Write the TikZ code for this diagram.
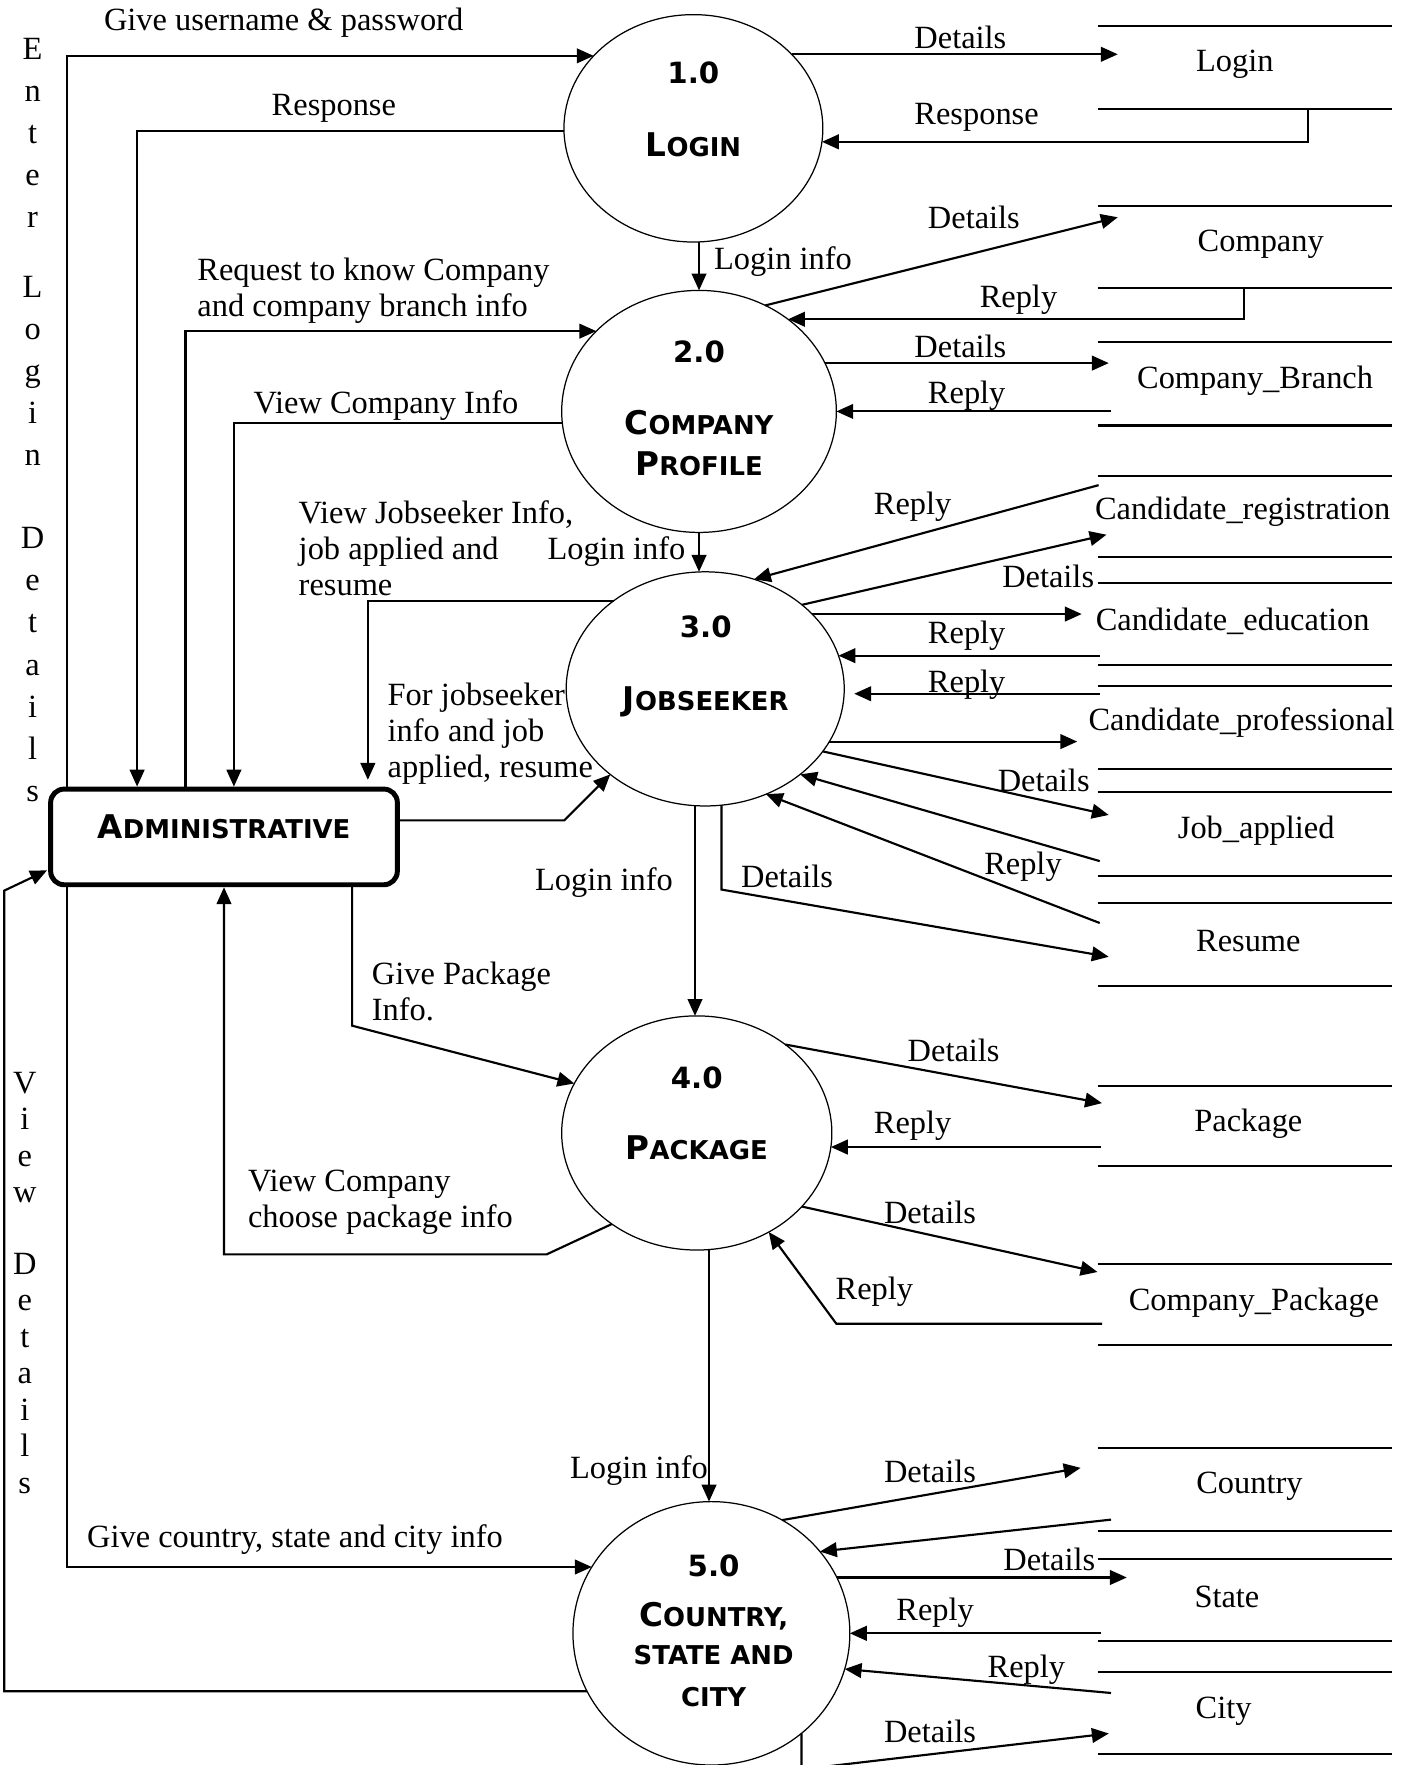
\documentclass[tikz,border=0pt]{standalone}
\usepackage{fontspec}
\setmainfont{Liberation Serif}
\newfontfamily\titlefont{DejaVu Sans}
\usetikzlibrary{arrows.meta,calc,shapes.geometric}

\newcommand\tsc[2]{{\fontsize{14.5}{17}\selectfont #1}{\fontsize{11.5}{17}\selectfont #2}}
\newcommand\tsm[1]{{\fontsize{11.5}{17}\selectfont #1}}
\newcommand\tnum[1]{{\fontsize{13}{17}\selectfont #1}}

\tikzset{
  proc/.style={ellipse, draw, line width=0.55pt, inner sep=0pt, outer sep=0pt},
  ptitle/.style={align=center, inner sep=0pt, font=\titlefont\bfseries\fontsize{13}{17}\selectfont},
  adminbox/.style={draw, rounded corners=6pt, line width=2.2pt, minimum width=154pt, minimum height=42.5pt,
    inner sep=0pt, outer sep=1.1pt, font=\titlefont\bfseries},
  flow/.style={line width=0.95pt, -{Triangle[length=7.5pt,width=6.5pt]}},
  dstore/.style={minimum width=131pt, inner sep=0pt, outer sep=0pt},
  storeline/.style={line width=0.9pt},
  dstext/.style={inner sep=0pt, font=\fontsize{14.4}{16}\selectfont},
  lbl/.style={anchor=west, align=left, inner sep=0pt, font=\fontsize{14.4}{16}\selectfont},
  vtxt/.style={align=center, inner sep=0pt, font=\fontsize{14.4}{18.75}\selectfont},
  vtxtb/.style={align=center, inner sep=0pt, font=\fontsize{14.4}{16.25}\selectfont}
}

\begin{document}
\begin{tikzpicture}[x=0.5pt, y=-0.5pt]
\useasboundingbox (0,0) rectangle (1255,1568);

\node[proc, minimum width=115pt, minimum height=101pt] (login) at (616,114) {};
\node[proc, minimum width=122pt, minimum height=107.5pt] (comp) at (621,365.5) {};
\node[proc, minimum width=123.5pt, minimum height=104pt] (jobs) at (626.5,612) {};
\node[proc, minimum width=120pt, minimum height=104pt] (pkg) at (619,1006.5) {};
\node[proc, minimum width=123pt, minimum height=117pt] (ctry) at (632,1451) {};

\node[ptitle] (loginT) at (616,97) {\tnum{1.0}\\[15.2pt]\tsc{L}{OGIN}};
\node[ptitle] (compT) at (621,363) {\tnum{2.0}\\[14.7pt]\tsc{C}{OMPANY}\\[1.6pt]\tsc{P}{ROFILE}};
\node[ptitle] (jobsT) at (627,592) {\tnum{3.0}\\[15.5pt]\tsc{J}{OBSEEKER}};
\node[ptitle] (pkgT) at (619,989) {\tnum{4.0}\\[14.9pt]\tsc{P}{ACKAGE}};
\node[ptitle] (ctryT) at (634,1449) {\tnum{5.0}\\[5.1pt]\tsc{C}{OUNTRY,}\\\tsm{STATE AND}\\[1.5pt]\tsm{CITY}};

\node[adminbox] (admin) at (199,743.5) {\raisebox{4.5pt}[\height][\depth]{\tsc{A}{DMINISTRATIVE}}};

\foreach \nm/\yt/\yb/\lx/\ly/\txt in {
  dsLogin/23/97/1097/57/Login,
  dsComp/183/256/1120/217/Company,
  dsBranch/304/378/1115/338/Company\_Branch,
  dsReg/423/495/1104/455/Candidate\_registration,
  dsEdu/518/591/1095/552/Candidate\_education,
  dsProf/609/683/1103/642/Candidate\_professional,
  dsJob/704/778/1116/738/Job\_applied,
  dsResume/802/876/1109/836/Resume,
  dsPkg/965/1036/1109/998/Package,
  dsCompPkg/1123/1195/1114/1157/Company\_Package,
  dsCountry/1286/1360/1110/1320/Country,
  dsState/1385/1458/1090/1419/State,
  dsCity/1485/1558/1087/1520/City}{
  \node[dstore, minimum height={(\yb-\yt)*0.5pt}] (\nm) at (1106,{(\yt+\yb)/2}) {};
  \draw[storeline] (\nm.north west) -- (\nm.north east) (\nm.south west) -- (\nm.south east);
  \node[dstext] (\nm-txt) at (\lx,\ly) {\txt};
}

\node[vtxt] (vEnter) at (29,118) {E\\n\\t\\e\\r};
\node[vtxt] (vLogin) at (29,329.5) {L\\o\\g\\i\\n};
\node[vtxt] (vDetails) at (29,590.5) {D\\e\\t\\a\\i\\l\\s};
\node[vtxtb] (vView) at (22,1010.5) {V\\i\\e\\w};
\node[vtxtb] (vDetailsB) at (22,1220) {D\\e\\t\\a\\i\\l\\s};

\node[lbl] (lGive) at (92,20) {Give username \& password};
\node[lbl] (lResp) at (241,96) {Response};
\node[lbl] (lReq) at (175,258) {Request to know Company\\and company branch info};
\node[lbl] (lViewComp) at (225,360) {View Company Info};
\node[lbl] (lViewJob) at (265,487) {View Jobseeker Info,\\job applied and\\resume};
\node[lbl] (lLogA) at (634,232) {Login info};
\node[lbl] (lLogB) at (486,490) {Login info};
\node[lbl] (lForJob) at (344,652) {For jobseeker\\info and job\\applied, resume};
\node[lbl] (lLogC) at (475,784) {Login info};
\node[lbl] (lGivePkg) at (330,881) {Give Package\\Info.};
\node[lbl] (lViewPkg) at (220,1068) {View Company\\choose package info};
\node[lbl] (lLogD) at (506,1306) {Login info};
\node[lbl] (lGiveCty) at (77,1368) {Give country, state and city info};

\node[lbl] (rDetA) at (812,33) {Details};
\node[lbl] (rRespA) at (812,104) {Response};
\node[lbl] (rDetB) at (824,193) {Details};
\node[lbl] (rRepB) at (870,266) {Reply};
\node[lbl] (rDetC) at (812,308) {Details};
\node[lbl] (rRepC) at (824,352) {Reply};
\node[lbl] (rRepD) at (776,450) {Reply};
\node[lbl] (rDetD) at (890,512) {Details};
\node[lbl] (rRepE) at (824,565) {Reply};
\node[lbl] (rRepF) at (824,608) {Reply};
\node[lbl] (rDetG) at (886,693) {Details};
\node[lbl] (rRepG) at (874,770) {Reply};
\node[lbl] (rDetH) at (658,779) {Details};
\node[lbl] (rDetI) at (806,933) {Details};
\node[lbl] (rRepI) at (776,1000) {Reply};
\node[lbl] (rDetJ) at (785,1077) {Details};
\node[lbl] (rRepJ) at (742,1148) {Reply};
\node[lbl] (rDetK) at (785,1307) {Details};
\node[lbl] (rDetL) at (891,1385) {Details};
\node[lbl] (rRepL) at (796,1433) {Reply};
\node[lbl] (rRepM) at (877,1483) {Reply};
\node[lbl] (rDetM) at (785,1538) {Details};

\draw[flow] ($(admin.north west)+(17,0)$) |- (login.144);
\draw[flow] (login.181.5) -| ($(admin.north west)+(79,0)$);
\draw[flow] (login.37) -- ($(login.37 -| dsLogin.west)+(18,0)$);
\draw[flow] ($(dsLogin.south west)+(187,0)$) |- (login.-6.4);
\draw[flow] (login.south -| comp.north) -- (comp.north);

\draw[flow] ($(admin.north west)+(122,0)$) |- (comp.142.9);
\draw[flow] (comp.185.9) -| ($(admin.north west)+(165,0)$);
\draw[flow] (comp.58) -- ($(dsComp.north west)+(18,10)$);
\draw[flow] ($(dsComp.south west)+(130,0)$) |- (comp.46.5);
\draw[flow] (comp.21.8) -- ($(comp.21.8 -| dsBranch.west)+(10,0)$);
\draw[flow] ($(comp.-0.5 -| dsBranch.west)+(12,0)$) -- (comp.-0.5);
\draw[flow] (comp.south) -- (comp.south |- jobs.north);

\draw[flow] (jobs.136.3) -| ($(admin.north west)+(284,-6)$);
\draw[flow] ($(admin.north east)+(0,30)$) -- ++(146,0) -- (jobs.222.8);
\draw[flow] ($(dsReg.north west)+(1,8)$) -- (jobs.66.2);
\draw[flow] (jobs.41) -- ($(dsReg.north west)+(8,52)$);
\draw[flow] (jobs.35.3) -- ($(jobs.35.3 -| dsEdu.west)+(-14,0)$);
\draw[flow] ($(jobs.14.5 -| dsEdu.west)+(2,0)$) -- (jobs.14.5);
\draw[flow, shorten >=4.5pt] ($(jobs.-2.6 -| dsProf.west)+(2,0)$) -- (jobs.-2.6);
\draw[flow] (jobs.-23.3) -- ($(jobs.-23.3 -| dsProf.west)+(-18,0)$);
\draw[flow] (jobs.-28.2) -- ($(dsJob.north west)+(10,20)$);
\draw[flow] ($(dsJob.north west)+(2,61)$) -- (jobs.-42);
\draw[flow] ($(dsResume.north west)+(2,18)$) -- (jobs.-60.4);
\draw[flow] (jobs.-82) -- ++(0,75) -- ($(dsResume.north west)+(10,48)$);
\draw[flow] (jobs.-95.8) -- (jobs.-95.8 |- pkg.north);

\draw[flow] ($(admin.south west)+(270,0)$) -- ++(0,123) -- (pkg.158.9);
\draw[flow] (pkg.227.5) -- ++(-58,27) -| (admin.south);
\draw[flow] (pkg.45.7) -- ($(dsPkg.north west)+(4,15)$);
\draw[flow] ($(pkg.-6.2 -| dsPkg.west)+(3,0)$) -- (pkg.-6.2);
\draw[flow] (pkg.-35.4) -- ($(dsCompPkg.north west)+(0,7)$);
\draw[flow] ($(dsCompPkg.north west)+(4,53)$) -- ++(-236,0) -- (pkg.-54.5);
\draw[flow] (pkg.-84) -- (pkg.-84 |- ctry.north);

\draw[flow] ($(admin.south west)+(17,0)$) |- (ctry.151.5);
\draw[flow] (ctry.205.8) -| ($(admin.south west)+(-39,3)$) -- ($(admin.south west)+(-1,-15)$);
\draw[flow] (ctry.58.5) -- ($(dsCountry.north west)+(-15,18)$);
\draw[flow] ($(dsCountry.north west)+(12,64)$) -- (ctry.37.9);
\draw[flow] (ctry.24.7) -- ($(ctry.24.7 -| dsState.west)+(26,0)$);
\draw[flow] ($(ctry.east -| dsState.west)+(3,0)$) -- (ctry.east);
\draw[flow] ($(dsCity.north west)+(12,19)$) -- (ctry.-15.6);
\draw[flow] (ctry.-48) -- ++(0,32) -- ($(dsCity.north west)+(10,55)$);
\end{tikzpicture}
\end{document}
